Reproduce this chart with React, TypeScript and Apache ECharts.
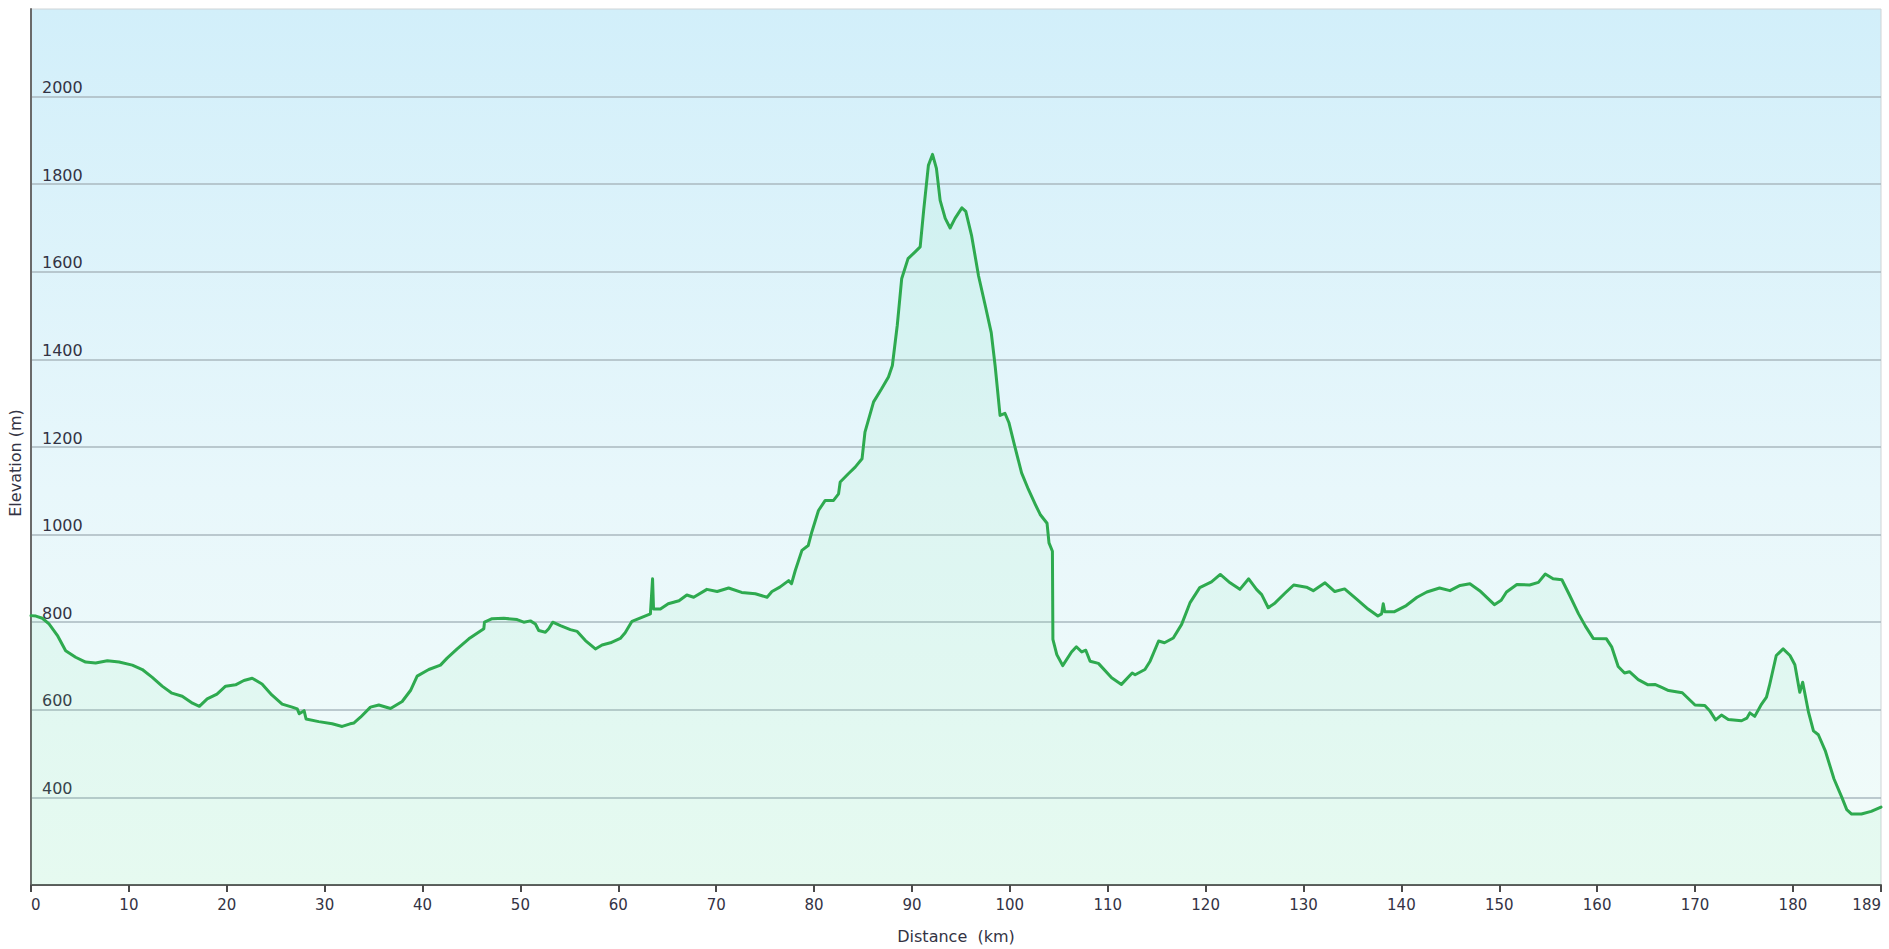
import React, { useEffect, useRef } from "react";
import * as echarts from "echarts";

const distanceKm: number[] = [
  0, 0.5, 1.16, 1.84, 2.69, 3.54, 4.56, 5.58, 6.6, 7.8, 9.0, 10.35, 11.37, 12.39, 13.4, 14.4, 15.45, 16.5, 17.2, 18.0,
  19.0, 19.88, 20.9, 21.75, 22.6, 23.6, 24.6, 25.66, 26.68, 27.2, 27.4, 27.9, 28.1, 29.4, 30.77, 31.79, 32.6, 33.0, 33.66, 34.68,
  35.53, 36.73, 37.92, 38.77, 39.45, 40.64, 41.83, 42.51, 43.54, 44.73, 46.26, 46.33, 47.11, 48.3, 49.66, 50.34, 51.02, 51.53, 51.87, 52.55,
  52.89, 53.3, 54.09, 55.1, 55.8, 56.64, 57.66, 58.34, 59.2, 60.2, 60.7, 61.4, 62.4, 63.28, 63.5, 63.6, 64.3, 65.1, 66.2, 67.0,
  67.7, 69.05, 70.1, 71.27, 72.6, 74.0, 75.2, 75.7, 76.5, 77.4, 77.7, 78.08, 78.76, 79.4, 79.77, 80.45, 81.14, 81.99, 82.5, 82.67,
  83.5, 84.2, 84.9, 85.2, 86.08, 86.9, 87.6, 88.0, 88.5, 88.95, 89.6, 90.3, 90.84, 91.2, 91.68, 92.1, 92.5, 92.88, 93.4, 93.9,
  94.4, 95.1, 95.5, 96.1, 96.8, 97.5, 98.1, 98.5, 99.0, 99.5, 99.9, 100.5, 101.2, 101.9, 102.6, 103.1, 103.8, 104.0, 104.35, 104.4,
  104.8, 105.4, 106.3, 106.8, 107.35, 107.76, 108.2, 109.05, 110.4, 111.4, 112.5, 112.8, 113.8, 114.33, 115.2, 115.8, 116.7, 117.55, 118.4, 119.4,
  120.6, 121.5, 122.5, 123.5, 124.4, 125.2, 125.73, 126.4, 127.1, 128.1, 129.0, 130.3, 131.0, 132.2, 133.2, 134.2, 135.4, 136.6, 137.6, 137.98,
  138.15, 138.3, 139.3, 140.5, 141.6, 142.6, 143.9, 144.96, 146.0, 147.0, 148.0, 149.5, 150.2, 150.74, 151.8, 153.1, 154.0, 154.7, 155.5, 156.4,
  157.2, 158.1, 158.8, 159.6, 160.95, 161.5, 162.15, 162.8, 163.3, 164.2, 165.2, 165.9, 166.6, 167.3, 168.7, 170.0, 171.0, 171.5, 172.1, 172.7,
  173.4, 174.75, 175.3, 175.6, 176.1, 176.8, 177.3, 177.6, 178.3, 179.0, 179.7, 180.2, 180.7, 181.0, 181.6, 182.1, 182.6, 183.3, 184.2, 185.0,
  185.5, 186.0, 187.0, 188.0, 189.0,
];

const elevationM: number[] = [
  815, 814, 809, 796, 770, 735, 720, 709, 707, 712, 709, 702, 692, 674, 654, 638, 631, 615, 608, 625,
  636, 654, 657, 667, 672, 659, 634, 613, 606, 602, 591, 598, 579, 573, 568, 562, 568, 570, 583, 606,
  611, 603, 619, 644, 677, 692, 702, 718, 739, 762, 785, 800, 808, 809, 806, 800, 803, 796, 781, 777,
  785, 800, 792, 783, 779, 758, 739, 748, 753, 763, 776, 802, 811, 819, 899, 830, 830, 842, 849, 862,
  857, 875, 870, 878, 868, 865, 857, 870, 880, 895, 888, 918, 964, 975, 1006, 1055, 1078, 1078, 1093, 1120,
  1139, 1154, 1173, 1234, 1303, 1333, 1360, 1386, 1478, 1584, 1630, 1645, 1657, 1741, 1843, 1868, 1836, 1763, 1722, 1700,
  1722, 1746, 1738, 1682, 1591, 1522, 1461, 1385, 1272, 1277, 1256, 1202, 1141, 1103, 1069, 1046, 1026, 981, 962, 761,
  726, 701, 732, 744, 732, 736, 711, 706, 673, 658, 684, 680, 692, 711, 757, 753, 764, 795, 844, 879,
  892, 909, 890, 875, 899, 875, 863, 833, 844, 866, 885, 880, 872, 890, 870, 876, 853, 830, 814, 819,
  842, 824, 824, 838, 857, 869, 878, 872, 884, 888, 872, 840, 850, 869, 886, 885, 891, 910, 899, 897,
  861, 819, 791, 763, 762, 743, 699, 684, 687, 669, 657, 658, 651, 644, 639, 611, 610, 598, 577, 588,
  578, 575, 581, 593, 585, 613, 629, 655, 724, 739, 724, 703, 640, 663, 594, 552, 543, 507, 442, 400,
  372, 362, 362, 368, 378,
];

const xAxisTitle = "Distance  (km)";
const yAxisTitle = "Elevation (m)";
const xMin = 0;
const xMax = 189;
const xStep = 10;
const yMin = 200;
const yMax = 2200;
const yStep = 200;

const FONT = "'DejaVu Sans', Verdana, sans-serif";

export default function App() {
  const ref = useRef<HTMLDivElement>(null);

  useEffect(() => {
    if (!ref.current) return;
    const chart = echarts.init(ref.current, undefined, { renderer: "svg" });
    const points = distanceKm.map((d, i) => [d, elevationM[i]]);

    chart.setOption({
      animation: false,
      backgroundColor: "#ffffff",
      grid: {
        left: 31,
        right: 8,
        top: 9,
        bottom: 62,
        show: true,
        borderColor: "#cfd4d6",
        borderWidth: 1,
        backgroundColor: new echarts.graphic.LinearGradient(0, 0, 0, 1, [
          { offset: 0, color: "rgb(210,239,250)" },
          { offset: 0.55, color: "rgb(232,247,251)" },
          { offset: 1, color: "rgb(242,252,249)" },
        ]),
      },
      graphic: [
        {
          type: "text",
          x: 15.5,
          y: 463,
          rotation: Math.PI / 2,
          style: {
            text: yAxisTitle,
            fontFamily: FONT,
            fontSize: 16,
            fill: "#333344",
            align: "center",
            verticalAlign: "middle",
          },
        },
      ],
      xAxis: {
        type: "value",
        min: xMin,
        max: xMax,
        interval: xStep,
        name: xAxisTitle,
        nameLocation: "middle",
        nameGap: 43,
        nameTextStyle: { fontFamily: FONT, fontSize: 16, color: "#333344" },
        axisLine: { show: true, onZero: false, lineStyle: { color: "#5a5a5a", width: 2 } },
        axisTick: { show: true, length: 7, lineStyle: { color: "#4a4a4a", width: 2 } },
        axisLabel: {
          fontFamily: FONT,
          fontSize: 15,
          color: "#333344",
          margin: 12,
          alignMinLabel: "left",
          alignMaxLabel: "right",
          formatter: (v: number) => String(v),
        },
        splitLine: { show: false },
      },
      yAxis: {
        type: "value",
        min: yMin,
        max: yMax,
        interval: yStep,
        axisLine: { show: true, onZero: false, lineStyle: { color: "#6a6a6a", width: 2 } },
        axisTick: { show: false },
        axisLabel: {
          inside: true,
          margin: 11,
          fontFamily: FONT,
          fontSize: 16,
          color: "#333344",
          verticalAlign: "bottom",
          padding: [0, 0, 1, 0],
          showMinLabel: false,
          showMaxLabel: false,
          formatter: (v: number) => String(v),
        },
        splitLine: {
          show: true,
          showMinLine: false,
          showMaxLine: false,
          lineStyle: { color: "#aab9bf", width: 1.5 },
        },
      },
      series: [
        {
          type: "line",
          data: points,
          showSymbol: false,
          symbol: "none",
          smooth: false,
          lineStyle: { color: "#2eaa4f", width: 3, join: "round", cap: "round" },
          areaStyle: { color: "rgba(110,228,150,0.13)" },
          z: 3,
        },
      ],
    });

    return () => chart.dispose();
  }, []);

  return (
    <div
      ref={ref}
      style={{ position: "absolute", left: 0, top: 0, width: 1889, height: 949 }}
    />
  );
}
